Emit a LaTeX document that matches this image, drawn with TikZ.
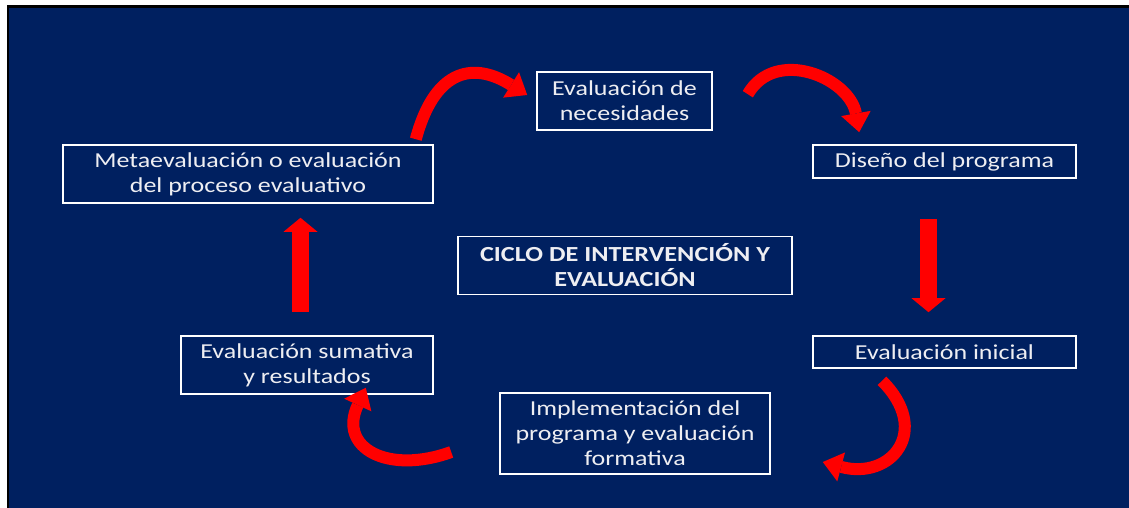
\documentclass[tikz,border=0pt]{standalone}
\usepackage{fontspec}
\setmainfont{Carlito}[FakeStretch=1.22]
\usetikzlibrary{
	arrows.meta,
	positioning,
	calc,
}
\definecolor{slidenavy}{HTML}{002060}
\definecolor{arrowred}{HTML}{FF0000}
\definecolor{boxtext}{HTML}{EEEEF2}
\tikzset{stage/.style={
		% The shape:
		rectangle,
		% The border:
		draw=white,line width=1.6pt,
		% The text:
		text=boxtext,align=center,inner sep=0pt,
		font=\fontsize{21.3}{25}\selectfont,
}}
\tikzset{blockarrow/.style={
		% a straight thick arrow
		arrowred,line width=17pt,
		-{Triangle[width=34pt,length=14pt,line width=0pt]},
}}
\tikzset{bentarrow/.style={
		% a curved arrow
		arrowred,line width=12pt,
		-{Triangle[width=30pt,length=19pt,line width=0pt]},
}}

\begin{document}
\begin{tikzpicture}[x=1pt,y=1pt]
	\useasboundingbox (0,0) rectangle (1129,508);
	\fill[white] (0,0) rectangle (1129,508);
	\fill[black] (7,0) rectangle (1129,503);
	\fill[slidenavy] (9,0) rectangle (1129,500);

	\node[stage,minimum width=175pt,minimum height=58pt] (nec) at (624.5,407) {Evaluación de\\necesidades};
	\node[stage,minimum width=263pt,minimum height=33pt] (diseno) at (944.5,346.5) {Diseño del programa};
	\node[stage,minimum width=370pt,minimum height=58pt] (meta) at (248,334) {Metaevaluación o evaluación\\del proceso evaluativo};
	\node[stage,minimum width=334pt,minimum height=58pt,font=\fontsize{21.5}{25}\selectfont\bfseries] (ciclo) at (625,242.5) {CICLO DE INTERVENCIÓN Y\\EVALUACIÓN};
	\node[stage,minimum width=252pt,minimum height=58pt] (sum) at (307,143) {Evaluación sumativa\\y resultados};
	\node[stage,minimum width=263pt,minimum height=32pt] (inicial) at (944.5,156) {Evaluación inicial};
	\node[stage,minimum width=270pt,minimum height=81pt] (impl) at (635,74.5) {Implementación del\\programa y evaluación\\formativa};

	\draw[bentarrow] ([shift={(-18,5)}]meta.north east) to[out=75,in=148,looseness=1.45] ([shift={(-9,6)}]nec.west);
	\draw[bentarrow] ([shift={(35,-23)}]nec.north east) to[out=60,in=100,looseness=1.2] ([shift={(47,12)}]diseno.north west);
	\draw[blockarrow] ([shift={(-16,-40)}]diseno.south) -- ([shift={(-16,23)}]inicial.north);
	\draw[bentarrow] ([shift={(-62.5,-12)}]inicial.south) to[out=-45,in=-15,looseness=1.8] ([shift={(52,-28.5)}]impl.east);
	\draw[bentarrow] ([shift={(-48,-18.5)}]impl.west) to[out=200,in=245,looseness=1.6] ([shift={(-68,7)}]sum.south east);
	\draw[blockarrow] ([shift={(-6.5,23)}]sum.north) -- ([shift={(52.5,-14)}]meta.south);
\end{tikzpicture}
\end{document}
